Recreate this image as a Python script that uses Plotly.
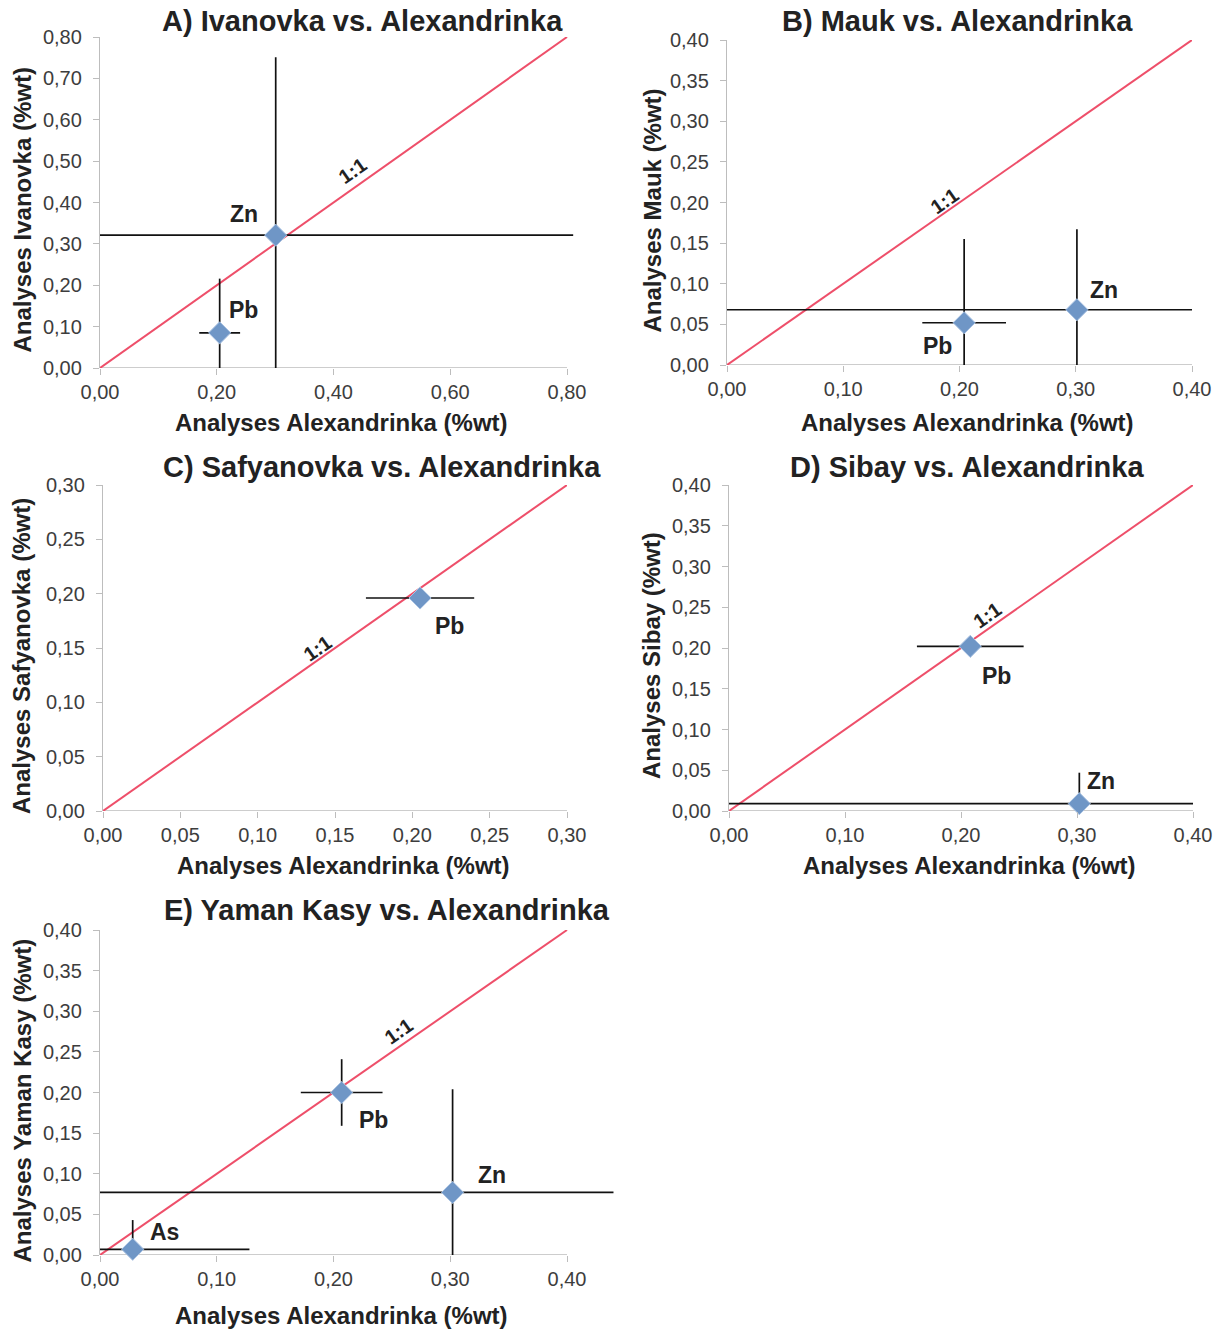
import plotly.graph_objects as go

# Page body margin is removed (post_script), so figure pixels = window pixels.
W, H = 1223, 1331

# ---------------- data ----------------
# Panel A: Ivanovka vs. Alexandrinka
a_el = ["Zn", "Pb"]
a_x = [0.301, 0.205]
a_y = [0.321, 0.085]
a_xp = [0.510, 0.035]
a_xm = [0.301, 0.035]
a_yp = [0.430, 0.131]
a_ym = [0.321, 0.085]

# Panel B: Mauk vs. Alexandrinka
b_el = ["Zn", "Pb"]
b_x = [0.301, 0.204]
b_y = [0.068, 0.052]
b_xp = [0.099, 0.036]
b_xm = [0.301, 0.036]
b_yp = [0.099, 0.103]
b_ym = [0.068, 0.052]

# Panel C: Safyanovka vs. Alexandrinka
c_el = ["Pb"]
c_x = [0.205]
c_y = [0.196]
c_xp = [0.035]
c_xm = [0.035]
c_yp = [0.0]
c_ym = [0.0]

# Panel D: Sibay vs. Alexandrinka
d_el = ["Pb", "Zn"]
d_x = [0.208, 0.302]
d_y = [0.202, 0.009]
d_xp = [0.046, 0.098]
d_xm = [0.046, 0.302]
d_yp = [0.0, 0.038]
d_ym = [0.0, 0.009]

# Panel E: Yaman Kasy vs. Alexandrinka
e_el = ["As", "Pb", "Zn"]
e_x = [0.028, 0.207, 0.302]
e_y = [0.007, 0.200, 0.077]
e_xp = [0.100, 0.035, 0.138]
e_xm = [0.028, 0.035, 0.302]
e_yp = [0.036, 0.041, 0.127]
e_ym = [0.007, 0.041, 0.077]

titles = ["A) Ivanovka vs. Alexandrinka", "B) Mauk vs. Alexandrinka",
          "C) Safyanovka vs. Alexandrinka", "D) Sibay vs. Alexandrinka",
          "E) Yaman Kasy vs. Alexandrinka"]
ytitles = ["Analyses Ivanovka (%wt)", "Analyses Mauk (%wt)",
           "Analyses Safyanovka (%wt)", "Analyses Sibay (%wt)",
           "Analyses Yaman Kasy (%wt)"]
xtitle = "Analyses Alexandrinka (%wt)"
axis_max = [0.80, 0.40, 0.30, 0.40, 0.40]
axis_dtick = [0.20, 0.10, 0.05, 0.10, 0.10]
ydtick = [0.10, 0.05, 0.05, 0.05, 0.05]

# label positions (data coords) for element names and 1:1 text
lab_pos = [
    {"Zn": (0.247, 0.372), "Pb": (0.245, 0.139), "1:1": (0.432, 0.477)},
    {"Zn": (0.324, 0.092), "Pb": (0.181, 0.024), "1:1": (0.187, 0.202)},
    {"Pb": (0.224, 0.170), "1:1": (0.139, 0.150)},
    {"Pb": (0.231, 0.166), "Zn": (0.321, 0.037), "1:1": (0.223, 0.240)},
    {"As": (0.055, 0.028), "Pb": (0.234, 0.166), "Zn": (0.336, 0.098), "1:1": (0.256, 0.276)},
]

panels = [
    (a_el, a_x, a_y, a_xp, a_xm, a_yp, a_ym),
    (b_el, b_x, b_y, b_xp, b_xm, b_yp, b_ym),
    (c_el, c_x, c_y, c_xp, c_xm, c_yp, c_ym),
    (d_el, d_x, d_y, d_xp, d_xm, d_yp, d_ym),
    (e_el, e_x, e_y, e_xp, e_xm, e_yp, e_ym),
]

# plot-area pixel boxes (left, right, top, bottom) for the [0, max] span
boxes = [(100, 567, 37, 368), (727, 1192, 40, 365),
         (103, 567, 485, 811), (729, 1193, 485, 811),
         (100, 567, 930, 1255)]
title_cx = [363, 957, 382, 967, 387]
title_cy = [21, 21, 467, 467, 910]
ytitle_x = [22, 652, 22, 652, 22]
xtitle_y = [423, 423, 865, 865, 1315]

FONT = "Liberation Sans, Arial, sans-serif"
RED = "#ee4f6a"
MARK = "#6f96c6"
AXC = "#bdbdbd"
TXT = "#222222"


def px(v):
    return v / W


def py(v):
    return 1 - v / H


fig = go.Figure()
annotations = []
shapes = []
layout = {}

for i, (pan, box) in enumerate(zip(panels, boxes)):
    el, x, y, xp, xm, yp, ym = pan
    n = i + 1
    xa = "x" if n == 1 else f"x{n}"
    ya = "y" if n == 1 else f"y{n}"
    m = axis_max[i]
    # horizontal extent: error bars may overhang the axis end
    xr = max([m] + [xi + e for xi, e in zip(x, xp)])
    # 1:1 line
    fig.add_trace(go.Scatter(x=[0, m], y=[0, m], mode="lines",
                             line=dict(color=RED, width=2),
                             xaxis=xa, yaxis=ya, showlegend=False, hoverinfo="skip"))
    # data points with error bars
    fig.add_trace(go.Scatter(
        x=x, y=y, mode="markers", text=el, xaxis=xa, yaxis=ya, showlegend=False,
        cliponaxis=False,
        marker=dict(symbol="diamond", size=17, color=MARK,
                    line=dict(color="#a9c2e2", width=1)),
        error_x=dict(type="data", symmetric=False, array=xp, arrayminus=xm,
                     color="#111111", thickness=1.7, width=0),
        error_y=dict(type="data", symmetric=False, array=yp, arrayminus=ym,
                     color="#111111", thickness=1.7, width=0),
    ))
    l, r, t, b = box
    pxu = (r - l) / m
    r_ext = l + xr * pxu
    xdom = [px(l), px(r_ext)]
    ydom = [py(b), py(t)]
    axkey = "xaxis" if n == 1 else f"xaxis{n}"
    aykey = "yaxis" if n == 1 else f"yaxis{n}"
    common = dict(showgrid=False, zeroline=False, automargin=False,
                  linecolor=AXC, linewidth=1.3, ticks="outside",
                  ticklen=6, tickcolor=AXC, tickwidth=1.3, tickformat=".2f",
                  tickfont=dict(family=FONT, size=20, color="#3d3d3d"),
                  fixedrange=True)
    nt = int(round(m / axis_dtick[i]))
    layout[axkey] = dict(common, domain=xdom, anchor=ya, range=[0, xr],
                         showline=False,
                         tickvals=[k * axis_dtick[i] for k in range(nt + 1)])
    layout[aykey] = dict(common, domain=ydom, anchor=xa, range=[0, m],
                         showline=True, dtick=ydtick[i], tick0=0,
                         ticklabelstandoff=7)
    # x axis line spanning only [0, max]
    shapes.append(dict(type="line", xref=xa, yref=ya, x0=0, x1=m, y0=0, y1=0,
                       line=dict(color=AXC, width=1.3), layer="below"))
    # panel title
    annotations.append(dict(text=f"<b>{titles[i]}</b>", xref="paper", yref="paper",
                            x=px(title_cx[i]), y=py(title_cy[i]),
                            xanchor="center", yanchor="middle", showarrow=False,
                            font=dict(family=FONT, size=29, color=TXT)))
    # axis titles
    annotations.append(dict(text=f"<b>{xtitle}</b>", xref="paper", yref="paper",
                            x=px((l + r) / 2 + 8), y=py(xtitle_y[i]),
                            xanchor="center", yanchor="middle", showarrow=False,
                            font=dict(family=FONT, size=24, color=TXT)))
    annotations.append(dict(text=f"<b>{ytitles[i]}</b>", xref="paper", yref="paper",
                            x=px(ytitle_x[i]), y=py((t + b) / 2 + 8),
                            xanchor="center", yanchor="middle", showarrow=False,
                            textangle=-90,
                            font=dict(family=FONT, size=24, color=TXT)))
    for key, (lx, ly) in lab_pos[i].items():
        if key == "1:1":
            annotations.append(dict(text="<b>1:1</b>", x=lx, y=ly, xref=xa, yref=ya,
                                    showarrow=False, textangle=-35,
                                    font=dict(family=FONT, size=20, color=TXT)))
        else:
            annotations.append(dict(text=f"<b>{key}</b>", x=lx, y=ly, xref=xa, yref=ya,
                                    showarrow=False,
                                    font=dict(family=FONT, size=23, color=TXT)))

fig.update_layout(width=W, height=H, margin=dict(l=0, r=0, t=0, b=0),
                  paper_bgcolor="white", plot_bgcolor="white",
                  separators=", ", annotations=annotations, shapes=shapes,
                  **layout)

fig.write_html("out.html", config={"displayModeBar": False},
               post_script="document.body.style.margin='0px';")
